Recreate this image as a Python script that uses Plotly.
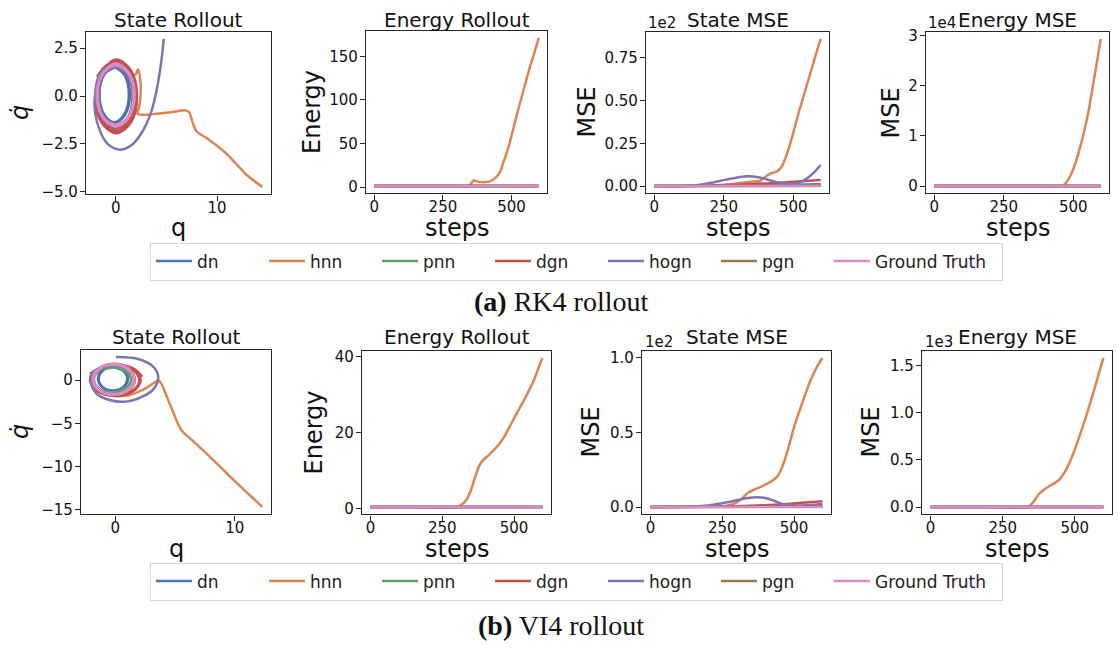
import plotly.graph_objects as go

W, H = 1118, 652
SANS = "DejaVu Sans"
SERIF = "Liberation Serif"

MODELS = ["dn", "hnn", "pnn", "dgn", "hogn", "pgn", "Ground Truth"]
COLORS = ["#4c72b0", "#dd8452", "#55a868", "#c44e52", "#8172b3", "#937860", "#da8bc3"]

# ---------------- RK4: phase-space rollout (q, q_dot) ----------------
rk4_q_dn = [-0.15, 0.85, 1.3, 0.85, -0.15, -1.15, -1.6, -1.15, -0.15, 0.92, 1.4, 0.92, -0.15, -1.22, -1.7, -1.22, -0.15]
rk4_qd_dn = [1.53, 1.11, 0.08, -0.95, -1.37, -0.95, 0.08, 1.11, 1.58, 1.15, 0.08, -0.99, -1.42, -0.99, 0.08, 1.15, 1.58]
rk4_q_hnn = [0.05, 1.33, 1.85, 1.33, 0.05, -1.23, -1.8, -1.23, 0.05, 1.3, 1.85, 1.33, 0.05, -1.27, -1.85, -1.27,
             0.0, 1.15, 1.95, 2.2, 2.45, 2.45, 2.3, 2.15, 2.6, 4.0, 5.5, 6.9, 7.25, 7.6, 8.0, 9.0,
             10.0, 11.0, 12.0, 13.0, 14.5]
rk4_qd_hnn = [1.65, 1.2, 0.05, -1.1, -1.55, -1.1, 0.05, 1.2, 1.65, 1.2, 0.0, -1.1, -1.6, -1.15, 0.0, 1.15,
              1.6, 1.25, 1.1, 1.4, 0.7, 0.0, -0.6, -0.92, -0.98, -0.93, -0.85, -0.75, -0.85, -1.4, -1.85, -2.2,
              -2.6, -3.05, -3.6, -4.15, -4.75]
rk4_q_pnn = [-1.85, -1.35, -0.1, 1.2, 1.7, 1.2, -0.1, -1.35, -1.9, -1.38, -0.1, 1.15, 1.65, 1.15, -0.1, -1.38, -1.85, -1.33, -0.1]
rk4_qd_pnn = [1.0, 1.35, 1.7, 1.2, 0.0, -1.2, -1.7, -1.2, 0.0, 1.2, 1.65, 1.17, 0.0, -1.2, -1.75, -1.25, 0.0, 1.15, 1.6]
rk4_q_dgn = [0.05, 1.33, 1.85, 1.33, 0.05, -1.23, -1.75, -1.23, 0.05, 1.42, 1.98, 1.42, 0.05, -1.32, -1.88, -1.32,
             0.05, 1.5, 2.1, 1.5, 0.05, -1.4, -2.0, -1.4, 0.05]
rk4_qd_dgn = [1.63, 1.15, -0.02, -1.19, -1.67, -1.19, -0.02, 1.15, 1.78, 1.26, -0.02, -1.3, -1.82, -1.3, -0.02, 1.26,
              1.9, 1.34, -0.02, -1.38, -1.94, -1.38, -0.02, 1.34, 1.9]
rk4_q_hogn = [0.0, -1.2, -1.75, -1.3, 0.0, 1.2, 1.7, 1.2, -0.1, -1.35, -1.95, -2.1, -1.7, -0.8, 0.5, 1.7, 2.7, 3.4, 4.0, 4.45, 4.75]
rk4_qd_hogn = [1.5, 1.1, 0.0, -1.15, -1.6, -1.15, 0.0, 1.1, 1.55, 1.3, 0.3, -0.4, -1.6, -2.5, -2.8, -2.5, -1.8, -1.0, 0.2, 1.6, 2.98]
rk4_q_pgn = [0.0, 1.27, 1.8, 1.27, 0.0, -1.27, -1.8, -1.27, 0.0, 1.28, 1.82, 1.28, 0.0, -1.28, -1.82, -1.28, 0.0]
rk4_qd_pgn = [1.65, 1.19, 0.05, -1.09, -1.55, -1.09, 0.05, 1.19, 1.66, 1.2, 0.05, -1.1, -1.56, -1.1, 0.05, 1.2, 1.66]
rk4_q_gt = [0.0, 1.25, 1.77, 1.25, 0.0, -1.25, -1.77, -1.25, 0.0, 1.32, 1.87, 1.32, 0.0, -1.32, -1.87, -1.32,
            0.0, 1.29, 1.82, 1.29, 0.0, -1.29, -1.82, -1.29, 0.0]
rk4_qd_gt = [1.65, 1.19, 0.05, -1.09, -1.55, -1.09, 0.05, 1.19, 1.6, 1.15, 0.05, -1.05, -1.5, -1.05, 0.05, 1.15,
             1.7, 1.22, 0.05, -1.12, -1.6, -1.12, 0.05, 1.22, 1.7]

# ---------------- RK4: energy rollout ----------------
flat_steps = [0, 599]
rk4_energy_steps_hnn = [0, 100, 200, 300, 340, 350, 362, 380, 400, 421, 439, 457, 470, 485, 500, 520, 540, 560, 580, 599]
rk4_energy_hnn = [1.2, 1.2, 1.2, 1.2, 1.3, 3.0, 7.5, 6.0, 5.7, 6.5, 10.0, 17.0, 28.0, 42.0, 59.0, 84.0, 107.0, 130.0, 151.0, 171.0]
rk4_energy_dn = [1.2, 1.2]
rk4_energy_pnn = [1.2, 1.2]
rk4_energy_dgn = [1.3, 1.3]
rk4_energy_hogn = [1.25, 1.25]
rk4_energy_pgn = [1.2, 1.2]
rk4_energy_gt = [1.2, 1.2]

# ---------------- RK4: state MSE ----------------
rk4_smse_steps_dn = [0, 300, 500, 599]
rk4_smse_dn = [0.0, 0.4, 0.8, 1.1]
rk4_smse_steps_hnn = [0, 200, 250, 300, 350, 380, 400, 421, 440, 457, 480, 500, 520, 540, 560, 580, 599]
rk4_smse_hnn = [0.0, 0.2, 0.8, 1.5, 2.6, 3.0, 5.5, 7.5, 8.5, 11.0, 20.0, 31.0, 43.0, 54.0, 65.0, 76.0, 86.0]
rk4_smse_pnn = [0.0, 0.3]
rk4_smse_steps_dgn = [0, 200, 300, 400, 500, 599]
rk4_smse_dgn = [0.0, 0.3, 0.8, 1.5, 2.5, 3.6]
rk4_smse_steps_hogn = [0, 100, 150, 200, 250, 300, 335, 380, 420, 460, 495, 520, 550, 575, 599]
rk4_smse_hogn = [0.0, 0.1, 0.5, 1.8, 3.5, 5.0, 5.8, 5.0, 3.2, 1.8, 1.4, 2.0, 4.5, 8.0, 12.3]
rk4_smse_pgn = [0.0, 0.2]
rk4_smse_gt = [0.0, 0.0]

# ---------------- RK4: energy MSE ----------------
rk4_emse_steps_hnn = [0, 200, 400, 457, 470, 480, 493, 510, 528, 540, 555, 571, 585, 599]
rk4_emse_hnn = [0, 0, 0, 0, 400, 1100, 2400, 4900, 8400, 11000, 14800, 20000, 24500, 29300]
rk4_emse_zero = [0.0, 0.0]

# ---------------- VI4: phase-space rollout ----------------
vi4_q_dn = [-0.2, 0.64, 1.0, 0.64, -0.2, -1.04, -1.4, -1.04, -0.2, 0.68, 1.05, 0.68, -0.2, -1.08, -1.45, -1.08, -0.2]
vi4_qd_dn = [1.5, 1.11, 0.15, -0.81, -1.2, -0.81, 0.15, 1.11, 1.55, 1.14, 0.15, -0.84, -1.25, -0.84, 0.15, 1.14, 1.55]
vi4_q_hnn = [-0.15, -1.37, -1.9, -1.37, -0.15, 1.07, 1.6, 1.07, -0.15, -1.37, -1.9, -1.37, -0.15, 1.1, 1.65, 1.1,
             -0.15, -1.37, -1.9, -1.37, -0.15, 0.6, 1.4, 2.4, 3.35, 3.6, 3.8, 4.6, 5.55, 6.3, 8.0, 10.0, 12.3]
vi4_qd_hnn = [1.8, 1.3, 0.05, -1.2, -1.7, -1.2, 0.05, 1.3, 1.8, 1.25, 0.0, -1.25, -1.75, -1.25, 0.0, 1.25,
              1.75, 1.25, 0.0, -1.25, -1.8, -1.85, -1.65, -1.05, -0.22, -0.05, -0.3, -2.9, -5.84, -6.8, -9.0, -11.7, -14.7]
vi4_q_pnn = [-2.15, -1.45, -0.3, 0.88, 1.4, 0.9, -0.3, -1.48, -1.95, -1.42, -0.3, 0.82, 1.3, 0.85, -0.3, -1.42, -1.85, -1.36, -0.3]
vi4_qd_pnn = [0.72, 1.3, 1.6, 1.15, 0.1, -1.0, -1.45, -1.0, 0.1, 1.15, 1.5, 1.1, 0.1, -0.95, -1.4, -0.95, 0.1, 1.1, 1.45]
vi4_q_dgn = [0.0, 1.42, 2.0, 1.42, 0.0, -1.42, -2.0, -1.42, 0.0, 1.5, 2.12, 1.5, 0.0, -1.5, -2.12, -1.5, 0.0, 1.55, 2.25]
vi4_qd_dgn = [1.75, 1.24, 0.0, -1.24, -1.75, -1.24, 0.0, 1.24, 1.8, 1.28, 0.0, -1.28, -1.8, -1.28, 0.0, 1.28, 1.85, 1.3, 0.4]
vi4_q_hogn = [0.05, 2.0, 3.23, 3.59, 3.23, 2.26, 0.88, -0.5, -1.6, -2.02, -1.74, -1.05, 0.0, 1.15, 1.6, 1.15, -0.1, -1.25, -1.8, -1.25, -0.1]
vi4_qd_hogn = [2.68, 2.42, 1.47, 0.34, -0.98, -1.92, -2.49, -2.3, -1.54, -0.22, 0.9, 1.5, 1.7, 1.2, 0.1, -1.1, -1.6, -1.1, 0.1, 1.25, 1.7]
vi4_q_pgn = [-0.15, 1.05, 1.57, 1.05, -0.15, -1.35, -1.87, -1.35, -0.15, 1.06, 1.58, 1.06, -0.15]
vi4_qd_pgn = [1.86, 1.35, 0.1, -1.15, -1.66, -1.15, 0.1, 1.35, 1.86, 1.35, 0.1, -1.15, -1.66]
vi4_q_gt = [-0.15, 1.05, 1.55, 1.05, -0.15, -1.35, -1.85, -1.35, -0.15, 1.01, 1.5, 1.01, -0.15, -1.31, -1.8, -1.31,
            -0.15, 1.08, 1.6, 1.08, -0.15, -1.38, -1.9, -1.38, -0.15]
vi4_qd_gt = [1.85, 1.34, 0.1, -1.14, -1.65, -1.14, 0.1, 1.34, 1.8, 1.31, 0.1, -1.11, -1.6, -1.11, 0.1, 1.31,
             1.9, 1.38, 0.1, -1.18, -1.7, -1.18, 0.1, 1.38, 1.9]

# ---------------- VI4: energy rollout ----------------
vi4_energy_steps_hnn = [0, 150, 300, 320, 335, 350, 365, 380, 395, 410, 430, 450, 470, 490, 510, 530, 550, 570, 585, 599]
vi4_energy_hnn = [0.5, 0.5, 0.5, 1.3, 2.5, 5.0, 8.5, 11.5, 13.0, 14.0, 15.5, 17.2, 19.5, 22.4, 25.2, 27.9, 30.8, 34.0, 37.0, 39.7]
vi4_energy_flat = [0.5, 0.5]

# ---------------- VI4: state MSE ----------------
vi4_smse_steps_dn = [0, 300, 599]
vi4_smse_dn = [0.0, 0.4, 1.0]
vi4_smse_steps_hnn = [0, 200, 250, 280, 300, 320, 340, 360, 380, 400, 420, 440, 455, 470, 485, 500, 520, 540, 560, 580, 599]
vi4_smse_hnn = [0.0, 0.1, 0.3, 1.5, 3.0, 6.0, 9.5, 11.5, 13.2, 15.0, 17.0, 20.0, 25.0, 33.0, 43.0, 53.5, 65.0, 76.0, 86.0, 94.0, 100.0]
vi4_smse_pnn = [0.0, 0.3]
vi4_smse_steps_dgn = [0, 300, 400, 500, 599]
vi4_smse_dgn = [0.0, 0.5, 1.2, 2.3, 3.8]
vi4_smse_steps_hogn = [0, 150, 200, 250, 300, 340, 370, 400, 430, 460, 490, 520, 560, 599]
vi4_smse_hogn = [0.0, 0.3, 1.0, 2.5, 4.5, 6.0, 6.5, 6.0, 4.2, 2.0, 1.0, 0.9, 1.3, 2.0]
vi4_smse_pgn = [0.0, 0.2]
vi4_smse_gt = [0.0, 0.0]

# ---------------- VI4: energy MSE ----------------
vi4_emse_steps_hnn = [0, 200, 330, 345, 360, 375, 390, 405, 425, 446, 465, 480, 500, 515, 540, 560, 580, 599]
vi4_emse_hnn = [0, 0, 0, 17, 70, 135, 175, 210, 245, 290, 370, 460, 610, 740, 970, 1170, 1380, 1580]
vi4_emse_zero = [0.0, 0.0]

# ---------------- panel contents (x, y per model, in MODELS order) ----------------
panels = [
    [(rk4_q_dn, rk4_qd_dn), (rk4_q_hnn, rk4_qd_hnn), (rk4_q_pnn, rk4_qd_pnn), (rk4_q_dgn, rk4_qd_dgn),
     (rk4_q_hogn, rk4_qd_hogn), (rk4_q_pgn, rk4_qd_pgn), (rk4_q_gt, rk4_qd_gt)],
    [(flat_steps, rk4_energy_dn), (rk4_energy_steps_hnn, rk4_energy_hnn), (flat_steps, rk4_energy_pnn),
     (flat_steps, rk4_energy_dgn), (flat_steps, rk4_energy_hogn), (flat_steps, rk4_energy_pgn), (flat_steps, rk4_energy_gt)],
    [(rk4_smse_steps_dn, rk4_smse_dn), (rk4_smse_steps_hnn, rk4_smse_hnn), (flat_steps, rk4_smse_pnn),
     (rk4_smse_steps_dgn, rk4_smse_dgn), (rk4_smse_steps_hogn, rk4_smse_hogn), (flat_steps, rk4_smse_pgn), (flat_steps, rk4_smse_gt)],
    [(flat_steps, rk4_emse_zero), (rk4_emse_steps_hnn, rk4_emse_hnn), (flat_steps, rk4_emse_zero), (flat_steps, rk4_emse_zero),
     (flat_steps, rk4_emse_zero), (flat_steps, rk4_emse_zero), (flat_steps, rk4_emse_zero)],
    [(vi4_q_dn, vi4_qd_dn), (vi4_q_hnn, vi4_qd_hnn), (vi4_q_pnn, vi4_qd_pnn), (vi4_q_dgn, vi4_qd_dgn),
     (vi4_q_hogn, vi4_qd_hogn), (vi4_q_pgn, vi4_qd_pgn), (vi4_q_gt, vi4_qd_gt)],
    [(flat_steps, vi4_energy_flat), (vi4_energy_steps_hnn, vi4_energy_hnn), (flat_steps, vi4_energy_flat),
     (flat_steps, vi4_energy_flat), (flat_steps, vi4_energy_flat), (flat_steps, vi4_energy_flat), (flat_steps, vi4_energy_flat)],
    [(vi4_smse_steps_dn, vi4_smse_dn), (vi4_smse_steps_hnn, vi4_smse_hnn), (flat_steps, vi4_smse_pnn),
     (vi4_smse_steps_dgn, vi4_smse_dgn), (vi4_smse_steps_hogn, vi4_smse_hogn), (flat_steps, vi4_smse_pgn), (flat_steps, vi4_smse_gt)],
    [(flat_steps, vi4_emse_zero), (vi4_emse_steps_hnn, vi4_emse_hnn), (flat_steps, vi4_emse_zero), (flat_steps, vi4_emse_zero),
     (flat_steps, vi4_emse_zero), (flat_steps, vi4_emse_zero), (flat_steps, vi4_emse_zero)],
]

# tick positions / labels per panel: (x ticks, x labels, y ticks, y labels)
step_ticks = [0, 250, 500]
step_labels = ["0", "250", "500"]
ticks = [
    ([0, 10], ["0", "10"], [2.5, 0, -2.5, -5], ["2.5", "0.0", "\u22122.5", "\u22125.0"]),
    (step_ticks, step_labels, [0, 50, 100, 150], ["0", "50", "100", "150"]),
    (step_ticks, step_labels, [0, 25, 50, 75], ["0.00", "0.25", "0.50", "0.75"]),
    (step_ticks, step_labels, [0, 10000, 20000, 30000], ["0", "1", "2", "3"]),
    ([0, 10], ["0", "10"], [0, -5, -10, -15], ["0", "\u22125", "\u221210", "\u221215"]),
    (step_ticks, step_labels, [0, 20, 40], ["0", "20", "40"]),
    (step_ticks, step_labels, [0, 50, 100], ["0.0", "0.5", "1.0"]),
    (step_ticks, step_labels, [0, 500, 1000, 1500], ["0.0", "0.5", "1.0", "1.5"]),
]

# axes boxes in pixels: left, top, right, bottom
boxes = [
    (86, 27, 271, 193), (366, 26, 547, 192), (646, 27, 829, 192), (926, 27, 1109, 192),
    (81, 351, 271, 519), (362, 352, 551, 519), (642, 352, 831, 519), (922, 352, 1112, 519),
]


def padded(values):
    lo, hi = min(values), max(values)
    pad = 0.05 * (hi - lo)
    return [lo - pad, hi + pad]


fig = go.Figure()
layout = {}
for i, (series, (xt, xl, yt, yl), (l, t, r, b)) in enumerate(zip(panels, ticks, boxes), start=1):
    legend_name = "legend" if i <= 4 else "legend2"
    for model, color, (xs, ys) in zip(MODELS, COLORS, series):
        fig.add_trace(go.Scatter(
            x=xs, y=ys, mode="lines", name=model,
            line=dict(color=color, width=2.5, shape="spline", smoothing=1.0),
            xaxis=f"x{i}", yaxis=f"y{i}",
            legend=legend_name, showlegend=(i in (1, 5)),
            legendwidth=(122 if model == "Ground Truth" else None),
            hoverinfo="skip",
        ))
    all_x = [v for xs, _ in series for v in xs]
    all_y = [v for _, ys in series for v in ys]
    common = dict(showline=True, mirror=True, linecolor="#262626", linewidth=1.2,
                  ticks="outside", ticklen=5, tickwidth=1.2, tickcolor="#262626",
                  showgrid=False, zeroline=False, fixedrange=True,
                  tickfont=dict(family=SANS, size=15, color="#111111"))
    sfx = "" if i == 1 else str(i)
    layout[f"xaxis{sfx}"] = dict(common, domain=[l / W, r / W], range=padded(all_x),
                                 tickvals=xt, ticktext=xl, anchor=f"y{i}", ticklabelstandoff=-6)
    layout[f"yaxis{sfx}"] = dict(common, domain=[1 - b / H, 1 - t / H], range=padded(all_y),
                                 tickvals=yt, ticktext=yl, anchor=f"x{i}", ticklabelstandoff=-1)

ann = []


def text(x, y, s, size, family=SANS, angle=0):
    ann.append(dict(x=x / W, y=1 - y / H, xref="paper", yref="paper", text=s, showarrow=False,
                    xanchor="center", yanchor="middle", textangle=angle,
                    font=dict(family=family, size=size, color="#111111")))


titles = ["State Rollout", "Energy Rollout", "State MSE", "Energy MSE"]
for row, (ty, xlab_y) in enumerate([(15, 227), (338, 554)]):
    base = row * 4
    for j, name in enumerate(titles):
        l, t, r, b = boxes[base + j]
        text((l + r) / 2, ty, name, 20)
        xlab = "q" if j == 0 else "steps"
        text((l + r) / 2, xlab_y, xlab, 24)

# y-axis labels
ylabels = ["<i>q\u0307</i>", "Energy", "MSE", "MSE"]
ylab_x = [[20, 312, 587, 891], [20, 314, 591, 871]]
for row in range(2):
    for j, s in enumerate(ylabels):
        l, t, r, b = boxes[row * 4 + j]
        text(ylab_x[row][j], (t + b) / 2, s, 24, angle=-90)

# scale factors above the MSE panels
text(662, 18, "1e2", 15)
text(942, 18, "1e4", 15)
text(659, 343, "1e2", 15)
text(939, 343, "1e3", 15)

# sub-figure captions
text(561, 302, "<b>(a)</b> RK4 rollout", 28, family=SERIF)
text(561, 632, "<b>(b)</b> VI4 rollout", 28, family=SERIF)

legend_common = dict(orientation="h", xanchor="left", yanchor="top", bgcolor="white",
                     bordercolor="#d6d6d6", borderwidth=1, entrywidth=62, entrywidthmode="pixels",
                     itemwidth=36, font=dict(family=SANS, size=17, color="#222222"))

fig.update_layout(
    **layout,
    annotations=ann,
    width=W, height=H,
    margin=dict(l=0, r=0, t=0, b=0),
    paper_bgcolor="white", plot_bgcolor="white",
    legend=dict(legend_common, x=150 / W, y=1 - 242 / H),
    legend2=dict(legend_common, x=150 / W, y=1 - 568 / H),
)

fig.write_html("out.html", config={"displayModeBar": False})
